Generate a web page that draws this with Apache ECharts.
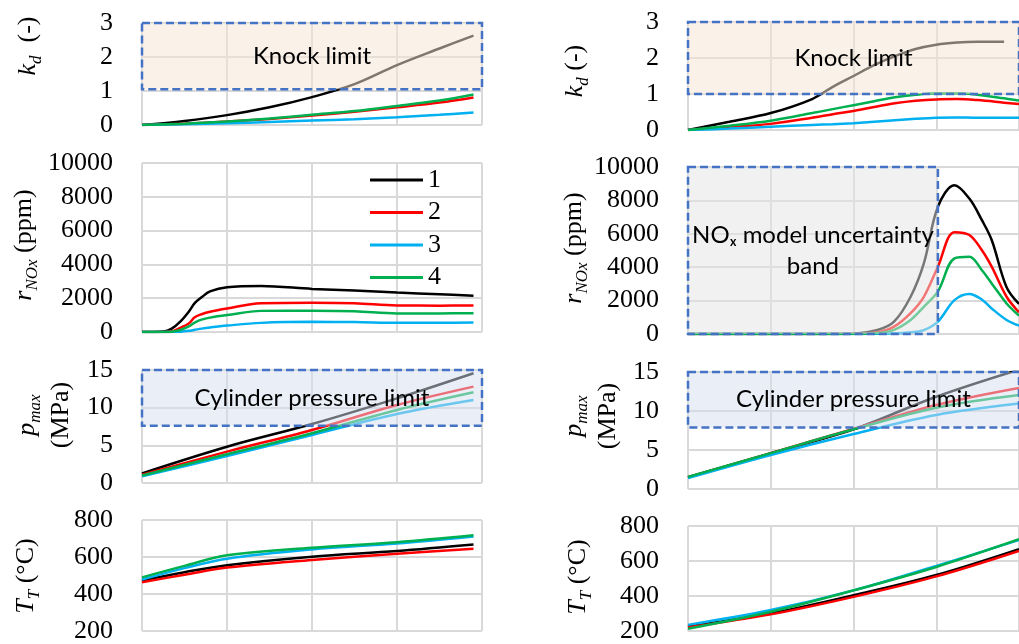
<!DOCTYPE html>
<html>
<head>
<meta charset="utf-8">
<script src="https://cdn.jsdelivr.net/npm/echarts@6/dist/echarts.min.js"></script>
<style>html,body{margin:0;padding:0;background:#fff;}#c{width:1019px;height:644px;}</style>
</head>
<body>
<div id="c"></div>
<script>
// ---------- data ----------
const seriesNames = ['1', '2', '3', '4'];
const seriesColors = ['#000000', '#FF0000', '#00B0F0', '#00B050'];

// Left column
const kdL_x = [0, 0.5, 1, 1.5, 2, 2.5, 3, 3.5, 3.9];
const kdL_1 = [0, 0.12, 0.29, 0.52, 0.82, 1.2, 1.76, 2.25, 2.63];
const kdL_2 = [0, 0.04, 0.1, 0.18, 0.28, 0.39, 0.52, 0.66, 0.81];
const kdL_3 = [0, 0.02, 0.05, 0.09, 0.13, 0.17, 0.23, 0.30, 0.37];
const kdL_4 = [0, 0.04, 0.1, 0.19, 0.30, 0.41, 0.56, 0.72, 0.90];

const noxL_x = [0, 0.25, 0.35, 0.45, 0.55, 0.62, 0.7, 0.8, 1, 1.4, 2, 2.5, 3, 3.5, 3.9];
const noxL_1 = [0, 30, 200, 610, 1200, 1710, 2050, 2400, 2650, 2720, 2550, 2450, 2330, 2230, 2150];
const noxL_2 = [0, 0, 30, 250, 500, 870, 1050, 1200, 1390, 1700, 1730, 1700, 1570, 1560, 1570];
const noxL_3 = [0, 0, 0, 20, 70, 130, 200, 270, 380, 540, 600, 590, 540, 550, 560];
const noxL_4 = [0, 0, 20, 120, 330, 560, 730, 850, 1000, 1250, 1260, 1230, 1100, 1100, 1110];

const pL_x = [0, 1, 2, 3, 3.9];
const pL_1 = [1.28, 4.82, 7.83, 11.24, 14.57];
const pL_2 = [1.1, 4.16, 7.04, 10.36, 12.79];
const pL_3 = [0.9, 3.58, 6.37, 9.16, 11.02];
const pL_4 = [1.0, 3.81, 6.6, 9.7, 12.04];

const tL_x = [0, 0.5, 1, 2, 3, 3.9];
const tL_1 = [473, 518, 556, 602, 632, 667];
const tL_2 = [464, 504, 543, 584, 618, 644];
const tL_3 = [478, 540, 591, 641, 673, 711];
const tL_4 = [490, 552, 609, 650, 680, 717];

// Right column
const kdR_x = [0, 0.5, 1, 1.5, 1.75, 2, 2.25, 2.5, 2.75, 3, 3.25, 3.5, 3.82, 4.0];
const kdR_1 = [0, 0.23, 0.47, 0.86, 1.2, 1.5, 1.8, 2.05, 2.25, 2.37, 2.43, 2.45, 2.45, null];
const kdR_2 = [0, 0.08, 0.17, 0.34, 0.44, 0.53, 0.64, 0.74, 0.81, 0.85, 0.86, 0.83, 0.76, 0.72];
const kdR_3 = [0, 0.04, 0.09, 0.14, 0.16, 0.19, 0.23, 0.27, 0.31, 0.34, 0.35, 0.34, 0.34, 0.34];
const kdR_4 = [0, 0.12, 0.26, 0.47, 0.58, 0.69, 0.80, 0.91, 0.98, 1.02, 1.02, 0.98, 0.88, 0.82];

const noxR_x = [0, 1, 2, 2.29, 2.49, 2.69, 2.85, 3.02, 3.22, 3.4, 3.55, 3.67, 3.85, 4.0];
const noxR_1 = [0, 0, 20, 240, 740, 2230, 4230, 7620, 8900, 8110, 6830, 5630, 2800, 1800];
const noxR_2 = [0, 0, 10, 100, 440, 1250, 2230, 4030, 6100, 5930, 5030, 4030, 2230, 1300];
const noxR_3 = [0, 0, 0, 10, 40, 100, 230, 740, 2030, 2400, 2070, 1530, 840, 500];
const noxR_4 = [0, 0, 5, 60, 250, 840, 1630, 2550, 4530, 4630, 3830, 3030, 1830, 1100];

const pR_x = [0, 1, 2, 3, 4];
const pR_1 = [1.5, 4.57, 7.65, 11.83, 15.3];
const pR_2 = [1.5, 4.6, 7.7, 10.77, 12.95];
const pR_3 = [1.4, 4.36, 7.05, 9.49, 10.95];
const pR_4 = [1.55, 4.6, 7.65, 10.42, 12.05];

const tR_x = [0, 1, 2, 3, 4];
const tR_1 = [226, 301, 404, 520, 668];
const tR_2 = [222, 295, 395, 512, 658];
const tR_3 = [235, 320, 432, 572, 720];
const tR_4 = [213, 310, 432, 566, 724];

// axis ranges / ticks
const kdTicks = [0, 3, 1];
const noxTicks = [0, 10000, 2000];
const pTicks = [0, 15, 5];
const tTicks = [200, 800, 200];

// limit boxes: [x0, y0, x1, y1]
const knockBoxL = [0, 1.05, 4, 3];
const knockBoxR = [0, 1.0, 4, 3];
const pBoxL = [0, 7.6, 4, 15];
const pBoxR = [0, 7.9, 4, 15];
const noxBoxR = [0, 0, 3.02, 10000];

// ---------- chart ----------
const chart = echarts.init(document.getElementById('c'));
const SERIF = '"Liberation Serif", serif';
const SANS = 'Lato';

const grids = [
  {left: 142, top: 23, width: 340, height: 102},
  {left: 142, top: 163, width: 340, height: 169},
  {left: 142, top: 370, width: 340, height: 113},
  {left: 142, top: 520, width: 340, height: 113},
  {left: 688, top: 22, width: 340, height: 108},
  {left: 688, top: 167, width: 340, height: 167},
  {left: 688, top: 372, width: 340, height: 117},
  {left: 688, top: 526, width: 340, height: 107}
];
const ranges = [kdTicks, noxTicks, pTicks, tTicks, kdTicks, noxTicks, pTicks, tTicks];
const gridColor = '#D9D9D9';

const xAxes = grids.map((g, i) => ({
  type: 'value', gridIndex: i, min: 0, max: 4, interval: 1,
  axisLabel: {show: false}, axisTick: {show: false}, axisLine: {show: false},
  splitLine: {show: true, lineStyle: {color: gridColor, width: 2}}
}));
const yAxes = grids.map((g, i) => ({
  type: 'value', gridIndex: i, min: ranges[i][0], max: ranges[i][1], interval: ranges[i][2],
  axisTick: {show: false}, axisLine: {show: false},
  axisLabel: {fontFamily: SERIF, fontSize: 26, color: '#000', margin: 29, formatter: v => String(v)},
  splitLine: {show: true, lineStyle: {color: gridColor, width: 2}}
}));

const panels = [
  [kdL_x, [kdL_1, kdL_2, kdL_3, kdL_4]],
  [noxL_x, [noxL_1, noxL_2, noxL_3, noxL_4]],
  [pL_x, [pL_1, pL_2, pL_3, pL_4]],
  [tL_x, [tL_1, tL_2, tL_3, tL_4]],
  [kdR_x, [kdR_1, kdR_2, kdR_3, kdR_4]],
  [noxR_x, [noxR_1, noxR_2, noxR_3, noxR_4]],
  [pR_x, [pR_1, pR_2, pR_3, pR_4]],
  [tR_x, [tR_1, tR_2, tR_3, tR_4]]
];

const series = [];
panels.forEach((p, gi) => {
  const xs = p[0];
  p[1].forEach((ys, si) => {
    series.push({
      type: 'line', name: seriesNames[si], xAxisIndex: gi, yAxisIndex: gi,
      data: xs.map((x, k) => [x, ys[k]]),
      smooth: 0.35, showSymbol: false, symbol: 'none', z: 2,
      color: seriesColors[si],
      lineStyle: {color: seriesColors[si], width: 2.5}
    });
  });
});

function box(gi, b, fill, text) {
  series.push({
    type: 'custom', xAxisIndex: gi, yAxisIndex: gi, z: 10, silent: true, clip: false,
    data: [b],
    renderItem: function (params, api) {
      const p0 = api.coord([api.value(0), api.value(3)]);
      const p1 = api.coord([api.value(2), api.value(1)]);
      return {
        type: 'group',
        children: [
          {type: 'rect', shape: {x: p0[0], y: p0[1], width: p1[0] - p0[0], height: p1[1] - p0[1]},
           style: {fill: fill, stroke: '#4472C4', lineWidth: 2.5, lineDash: [8, 4]}},
          {type: 'text', x: (p0[0] + p1[0]) / 2, y: (p0[1] + p1[1]) / 2,
           style: {text: text, align: 'center', verticalAlign: 'middle', fill: '#000',
                   fontFamily: SANS, fontSize: 24, lineHeight: 31}}
        ]
      };
    }
  });
}
const knockFill = 'rgba(246,228,212,0.52)';
const pFill = 'rgba(214,222,240,0.5)';
const noxFill = 'rgba(228,228,228,0.52)';
box(0, knockBoxL, knockFill, 'Knock limit');
box(4, knockBoxR, knockFill, 'Knock limit');
box(2, pBoxL, pFill, 'Cylinder pressure limit');
box(6, pBoxR, pFill, 'Cylinder pressure limit');
box(5, noxBoxR, noxFill, 'NOₓ model uncertainty\nband');

const richT = {
  it: {fontFamily: SERIF, fontStyle: 'italic', fontSize: 26, lineHeight: 34, verticalAlign: 'middle', color: '#000'},
  sub: {fontFamily: SERIF, fontStyle: 'italic', fontSize: 17, verticalAlign: 'bottom', color: '#000'},
  n: {fontFamily: SERIF, fontSize: 26, lineHeight: 34, verticalAlign: 'middle', color: '#000'}
};
function title(x, y, text) {
  return {
    type: 'text', x: x, y: y, rotation: Math.PI / 2, silent: true,
    style: {text: text, rich: richT, align: 'center', verticalAlign: 'middle', fill: '#000'}
  };
}

const option = {
  backgroundColor: '#fff',
  animation: false,
  grid: grids,
  xAxis: xAxes,
  yAxis: yAxes,
  legend: {
    data: seriesNames, orient: 'vertical', left: 365, top: 162,
    icon: 'rect', itemWidth: 53, itemHeight: 3, itemGap: 6.5,
    textStyle: {fontFamily: SERIF, fontSize: 26, color: '#000', padding: [0, 0, 0, 0]},
    selectedMode: false
  },
  series: series,
  graphic: [
    title(28, 46, '{it|k}{sub|d}{n|  (-)}'),
    title(575, 71, '{it|k}{sub|d}{n| (-)}'),
    title(24, 245, '{it|r}{sub|NOx}{n| (ppm)}'),
    title(574, 248, '{it|r}{sub|NOx}{n| (ppm)}'),
    title(44, 415, '{it|p}{sub|max}\n{n|(MPa)}'),
    title(591, 416, '{it|p}{sub|max}\n{n|(MPa)}'),
    title(26, 576, '{it|T}{sub|T}{n| (°C)}'),
    title(578, 577, '{it|T}{sub|T}{n| (°C)}')
  ]
};
chart.setOption(option);
</script>
</body>
</html>
